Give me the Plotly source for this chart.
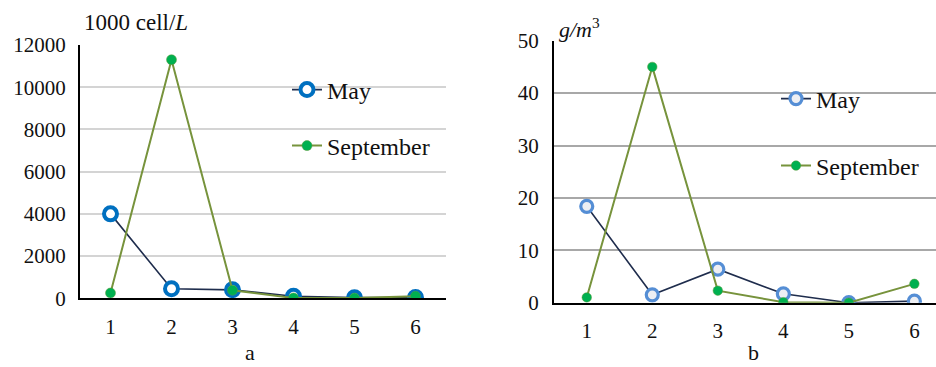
import plotly.graph_objects as go

# Sampling stations
stations = [1, 2, 3, 4, 5, 6]

# (a) phytoplankton abundance, 1000 cell/L
abund_may = [4000, 450, 400, 100, 30, 40]
abund_sep = [250, 11300, 380, 20, 10, 100]

# (b) phytoplankton biomass, g/m3
biom_may = [18.4, 1.5, 6.4, 1.7, 0.0, 0.3]
biom_sep = [1.0, 45.0, 2.3, 0.1, 0.0, 3.6]

FONT = "'Liberation Serif', 'Times New Roman', serif"
W, H = 936, 367


def px_x(p):
    return p / W


def px_y(p):
    return 1 - p / H


fig = go.Figure()

# --- panel a ---
fig.add_trace(go.Scatter(
    x=stations, y=abund_may, name="May", mode="lines+markers",
    line=dict(color="#1F2D4D", width=1.6),
    marker=dict(symbol="circle", size=13, color="white",
                line=dict(color="#0070C0", width=4)),
    xaxis="x", yaxis="y", legend="legend"))
fig.add_trace(go.Scatter(
    x=stations, y=abund_sep, name="September", mode="lines+markers",
    line=dict(color="#77933C", width=2),
    marker=dict(symbol="circle", size=10, color="#00B050",
                line=dict(color="#5E9A3A", width=0.5)),
    xaxis="x", yaxis="y", legend="legend2"))

# --- panel b ---
fig.add_trace(go.Scatter(
    x=stations, y=biom_may, name="May", mode="lines+markers",
    line=dict(color="#1F2D4D", width=1.6),
    marker=dict(symbol="circle", size=12, color="#EEEFF3",
                line=dict(color="#558ED5", width=3.2)),
    xaxis="x2", yaxis="y2", legend="legend3"))
fig.add_trace(go.Scatter(
    x=stations, y=biom_sep, name="September", mode="lines+markers",
    line=dict(color="#77933C", width=2),
    marker=dict(symbol="circle", size=9.5, color="#00B050",
                line=dict(color="#5E9A3A", width=0.5)),
    xaxis="x2", yaxis="y2", legend="legend4"))

tick_font = dict(family=FONT, size=21, color="#111111")
xcommon = dict(tickmode="array", tickvals=stations, ticktext=[str(s) for s in stations],
               showgrid=False, zeroline=False, showline=True, linecolor="black",
               linewidth=2, ticks="", tickfont=tick_font, ticklabelstandoff=8,
               fixedrange=True)

legend_font = dict(family=FONT, size=24, color="#111111")
legend_common = dict(bgcolor="rgba(0,0,0,0)", borderwidth=0, font=legend_font,
                     xanchor="left", yanchor="middle", itemsizing="trace",
                     visible=True)

fig.update_layout(
    width=W, height=H,
    margin=dict(l=0, r=0, t=0, b=0, pad=0, autoexpand=False),
    paper_bgcolor="white", plot_bgcolor="white",
    font=dict(family=FONT),
    showlegend=True,
    xaxis=dict(domain=[px_x(80), px_x(446)], range=[0.5, 6.5], anchor="y", **xcommon),
    yaxis=dict(domain=[px_y(298.3), px_y(45)], range=[0, 12000], anchor="x",
               tickmode="array",
               tickvals=[0, 2000, 4000, 6000, 8000, 10000, 12000],
               ticktext=["0", "2000", "4000", "6000", "8000", "10000", "12000"],
               showgrid=True, gridcolor="#D4D4D4", gridwidth=1.5,
               zeroline=False, showline=True, linecolor="black", linewidth=2,
               ticks="", tickfont=tick_font, ticklabelstandoff=8, fixedrange=True),
    xaxis2=dict(domain=[px_x(554), 1], range=[0.5, 6.33], anchor="y2", **xcommon),
    yaxis2=dict(domain=[px_y(302.7), px_y(40.7)], range=[0, 50], anchor="x2",
                tickmode="array",
                tickvals=[0, 10, 20, 30, 40, 50],
                ticktext=["0", "10", "20", "30", "40", "50"],
                showgrid=True, gridcolor="#A8A8A8", gridwidth=2,
                zeroline=False, showline=True, linecolor="black", linewidth=2,
                ticks="", tickfont=tick_font, ticklabelstandoff=9, fixedrange=True),
    legend=dict(x=px_x(287), y=px_y(90), **legend_common),
    legend2=dict(x=px_x(287), y=px_y(146), **legend_common),
    legend3=dict(x=px_x(776), y=px_y(99), **legend_common),
    legend4=dict(x=px_x(776), y=px_y(166), **legend_common),
    annotations=[
        dict(text="1000 cell/<i>L</i>", x=px_x(82), y=px_y(22), xref="paper", yref="paper",
             xanchor="left", yanchor="middle", showarrow=False,
             font=dict(family=FONT, size=23, color="#111111")),
        dict(text="<i>g/m</i><sup>3</sup>", x=px_x(557), y=px_y(28), xref="paper", yref="paper",
             xanchor="left", yanchor="middle", showarrow=False,
             font=dict(family=FONT, size=22, color="#111111")),
        dict(text="a", x=px_x(250), y=0, xref="paper", yref="paper",
             xanchor="center", yanchor="bottom", showarrow=False,
             font=dict(family=FONT, size=22, color="#111111")),
        dict(text="b", x=px_x(753), y=0, xref="paper", yref="paper",
             xanchor="center", yanchor="bottom", showarrow=False,
             font=dict(family=FONT, size=22, color="#111111")),
    ],
)

fig.write_html("out.html")
